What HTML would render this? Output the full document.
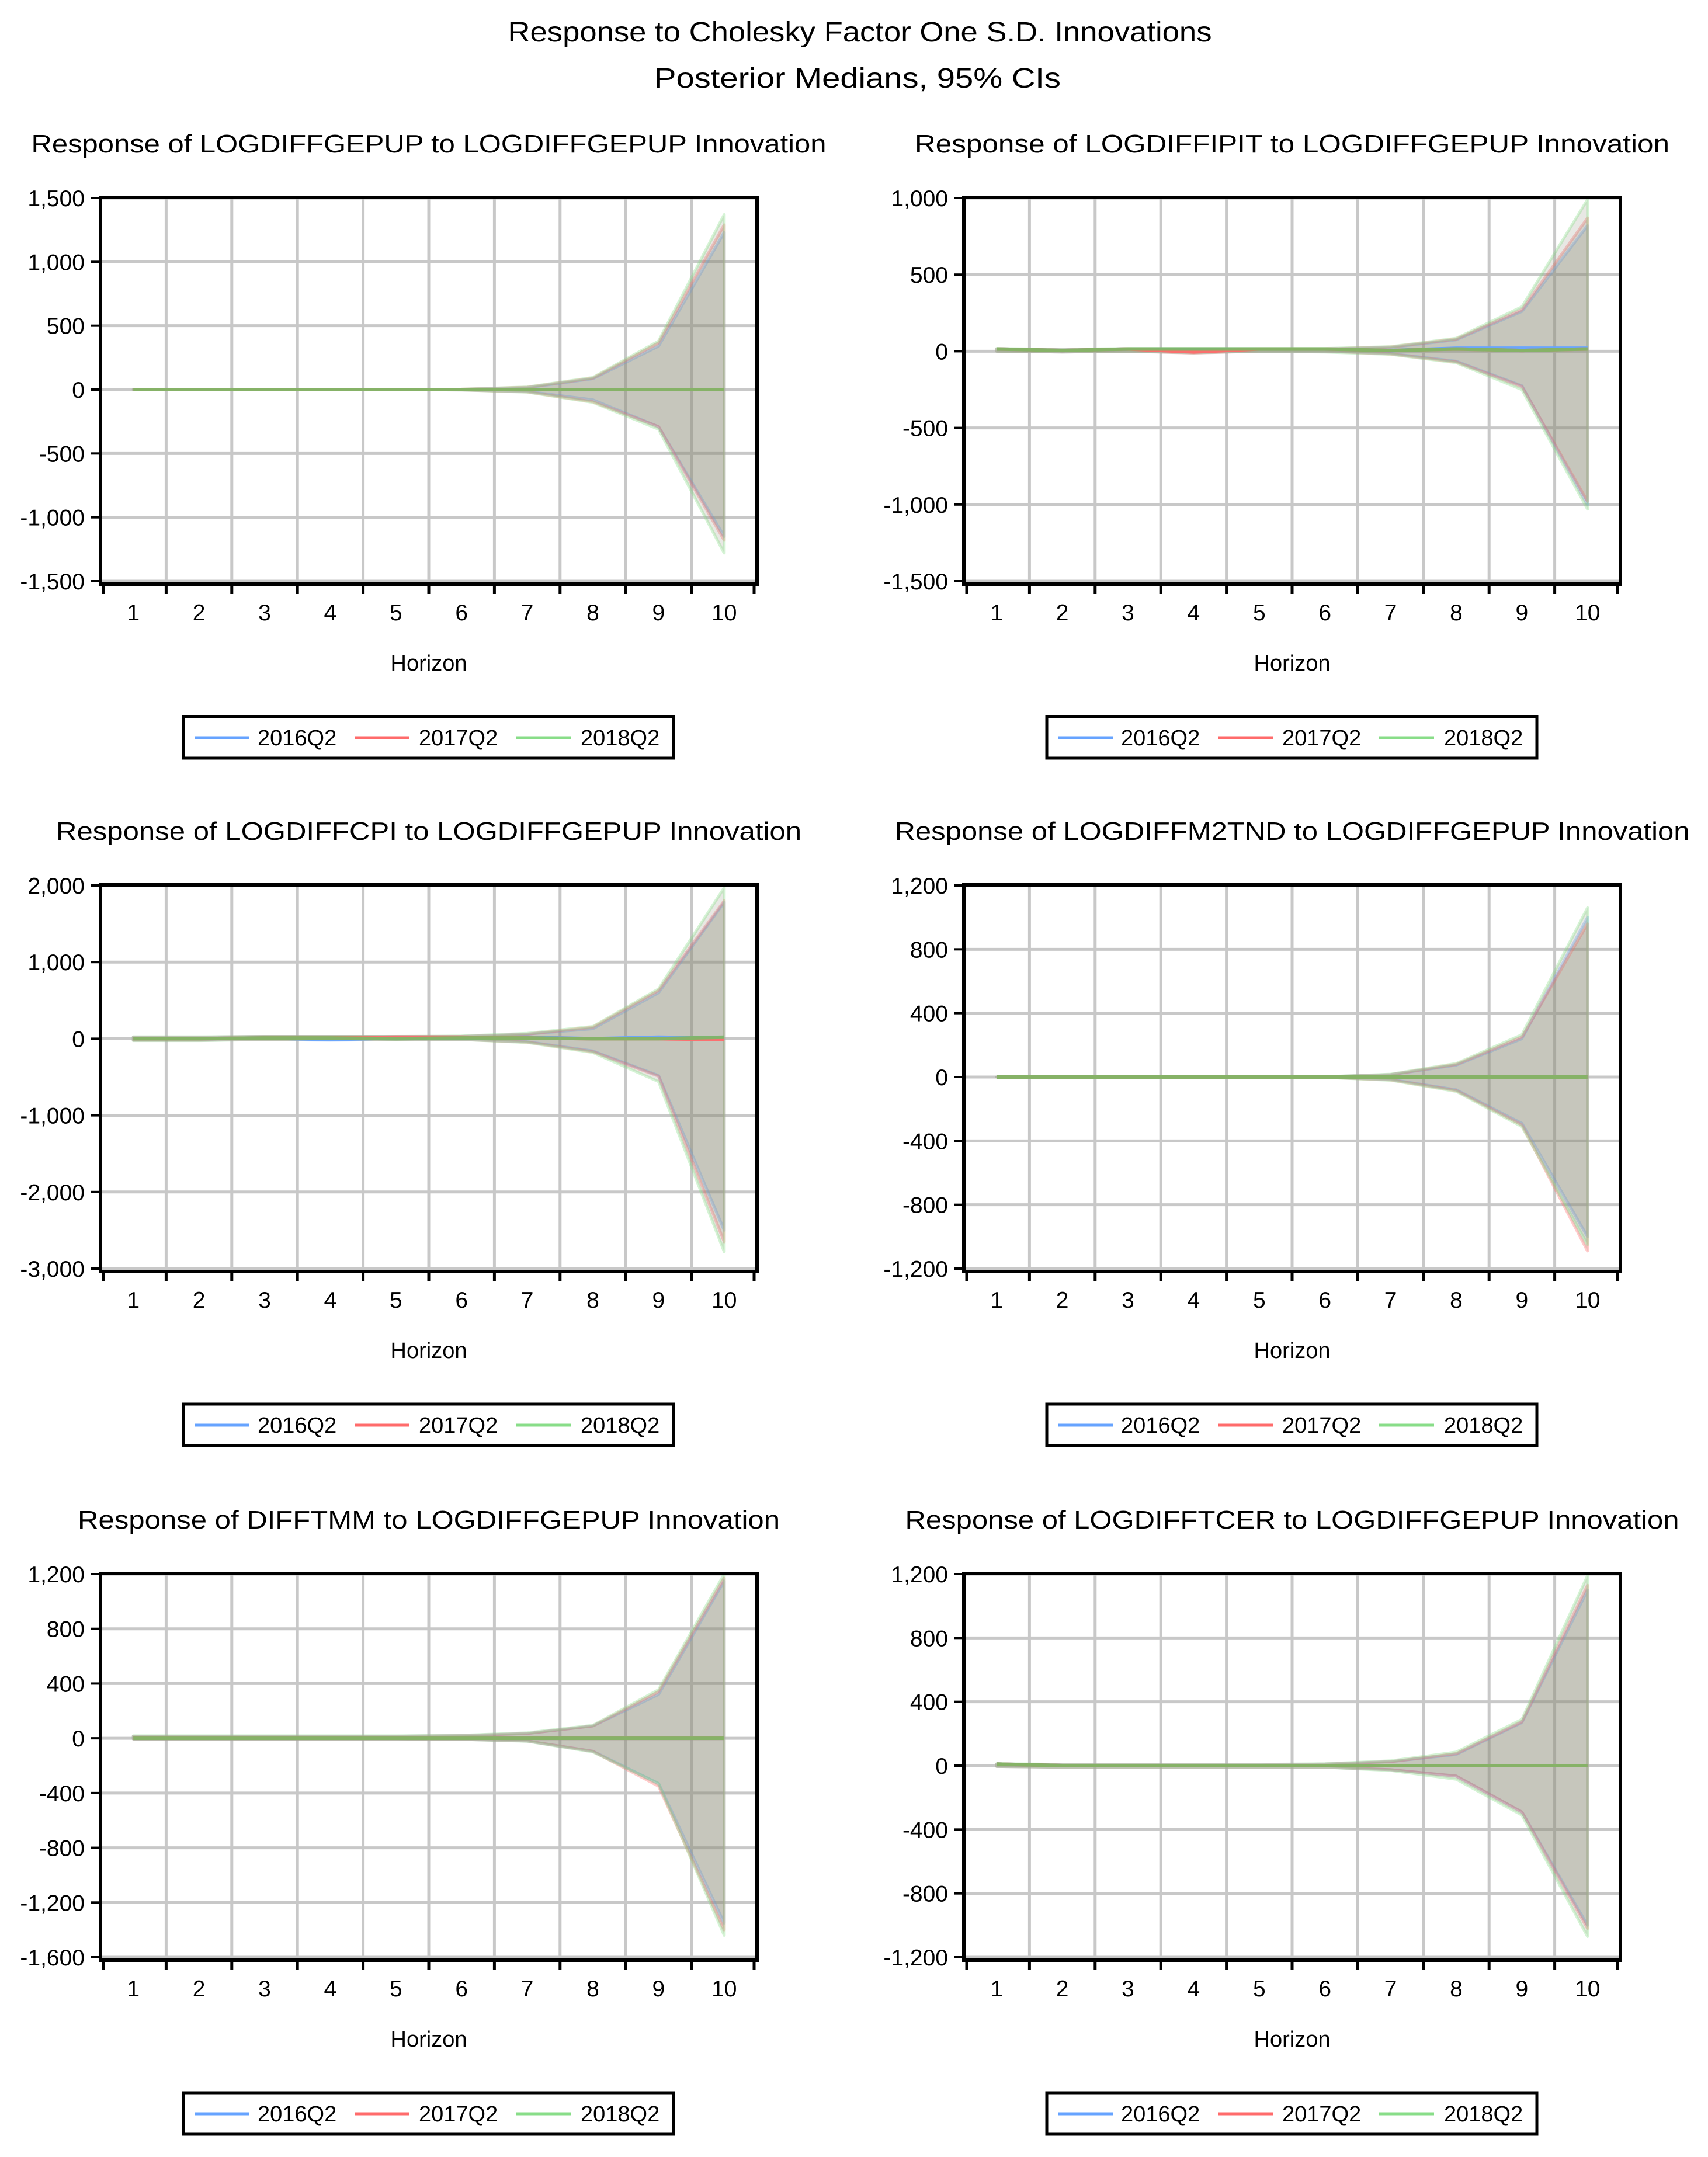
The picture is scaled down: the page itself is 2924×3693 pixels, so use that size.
<!DOCTYPE html>
<html><head><meta charset="utf-8"><style>
html,body{margin:0;padding:0;background:#fff;}
svg{display:block;font-family:"Liberation Sans",Arial,sans-serif;}
</style></head><body>
<svg id="chart" width="2924" height="3693" viewBox="0 0 2924 3693" xmlns="http://www.w3.org/2000/svg">
<rect width="2924" height="3693" fill="#fff"/>
<text x="1472" y="71" font-size="48" text-anchor="middle" textLength="1205" lengthAdjust="spacingAndGlyphs">Response to Cholesky Factor One S.D. Innovations</text>
<text x="1468" y="150" font-size="48" text-anchor="middle" textLength="696" lengthAdjust="spacingAndGlyphs">Posterior Medians, 95% CIs</text>
</svg>
<script>
const horizons = [1,2,3,4,5,6,7,8,9,10];
const seriesNames = ["2016Q2","2017Q2","2018Q2"];
const seriesColors = ["#66a3ff","#ff6b6b","#88dd88"];
const medianColors = ["#66a3ff","#ff6b6b","#7fb566"];

const p1Title = "Response of  LOGDIFFGEPUP to LOGDIFFGEPUP Innovation";
const p1Ticks = [1500,1000,500,0,-500,-1000,-1500];
const p1TickLabels = ["1,500","1,000","500","0","-500","-1,000","-1,500"];
const p1Upper = [[0,0,0,0,0,2,15,85,340,1230],[0,0,0,0,0,3,18,90,365,1290],[0,0,0,0,0,3,20,95,380,1370]];
const p1Lower = [[0,0,0,0,0,-3,-15,-80,-290,-1150],[0,0,0,0,0,-3,-18,-95,-290,-1180],[0,0,0,0,0,-3,-20,-100,-310,-1280]];
const p1Median = [[0,0,0,0,0,0,0,0,0,0],[0,0,0,0,0,0,0,0,0,0],[0,0,0,0,0,0,0,0,0,0]];

const p2Title = "Response of  LOGDIFFIPIT to LOGDIFFGEPUP Innovation";
const p2Ticks = [1000,500,0,-500,-1000,-1500];
const p2TickLabels = ["1,000","500","0","-500","-1,000","-1,500"];
const p2Upper = [[15,10,15,15,15,15,25,75,260,820],[15,10,15,15,15,15,28,80,270,870],[18,12,18,18,18,18,30,85,290,990]];
const p2Lower = [[0,-5,0,-10,0,0,-15,-65,-225,-1000],[0,-5,0,-12,0,0,-18,-70,-230,-980],[0,-5,0,-10,0,-5,-20,-75,-250,-1030]];
const p2Median = [[15,5,15,15,15,15,5,20,20,20],[15,5,15,-5,15,15,5,15,5,15],[15,5,15,15,15,15,5,15,5,15]];

const p3Title = "Response of  LOGDIFFCPI to LOGDIFFGEPUP Innovation";
const p3Ticks = [2000,1000,0,-1000,-2000,-3000];
const p3TickLabels = ["2,000","1,000","0","-1,000","-2,000","-3,000"];
const p3Upper = [[20,20,30,30,30,30,60,130,600,1780],[20,20,30,30,30,30,60,150,630,1800],[25,25,30,30,30,35,70,160,650,1970]];
const p3Lower = [[-20,-20,-10,-20,-10,-10,-40,-160,-480,-2500],[-20,-20,-10,-10,-10,-10,-45,-170,-490,-2650],[-25,-25,-10,-10,-10,-10,-50,-180,-560,-2780]];
const p3Median = [[0,0,10,-10,10,10,20,0,20,10],[0,0,10,10,20,20,10,0,0,-10],[0,0,10,10,0,10,10,0,0,20]];

const p4Title = "Response of  LOGDIFFM2TND to LOGDIFFGEPUP Innovation";
const p4Ticks = [1200,800,400,0,-400,-800,-1200];
const p4TickLabels = ["1,200","800","400","0","-400","-800","-1,200"];
const p4Upper = [[0,0,0,0,0,2,15,75,240,1000],[0,0,0,0,0,2,15,80,250,960],[0,0,0,0,0,2,18,85,265,1060]];
const p4Lower = [[0,0,0,0,0,-2,-15,-80,-290,-1000],[0,0,0,0,0,-2,-18,-85,-300,-1090],[0,0,0,0,0,-2,-20,-90,-310,-1050]];
const p4Median = [[0,0,0,0,0,0,0,0,0,0],[0,0,0,0,0,0,0,0,0,0],[0,0,0,0,0,0,0,0,0,0]];

const p5Title = "Response of  DIFFTMM to LOGDIFFGEPUP Innovation";
const p5Ticks = [1200,800,400,0,-400,-800,-1200,-1600];
const p5TickLabels = ["1,200","800","400","0","-400","-800","-1,200","-1,600"];
const p5Upper = [[15,15,15,15,15,20,35,90,320,1150],[15,15,15,15,15,20,35,90,340,1170],[18,18,18,18,18,22,40,95,355,1200]];
const p5Lower = [[-5,-5,-5,-5,-5,-8,-20,-95,-330,-1350],[-5,-5,-5,-5,-5,-8,-20,-95,-350,-1400],[-5,-5,-5,-5,-5,-8,-22,-100,-330,-1440]];
const p5Median = [[0,0,0,0,0,0,0,0,0,0],[0,0,0,0,0,0,0,0,0,0],[0,0,0,0,0,0,0,0,0,0]];

const p6Title = "Response of  LOGDIFFTCER to LOGDIFFGEPUP Innovation";
const p6Ticks = [1200,800,400,0,-400,-800,-1200];
const p6TickLabels = ["1,200","800","400","0","-400","-800","-1,200"];
const p6Upper = [[10,5,5,5,5,10,25,70,270,1100],[10,5,5,5,5,10,25,75,275,1130],[12,8,8,8,8,12,30,85,290,1190]];
const p6Lower = [[-5,-10,-10,-10,-10,-10,-25,-65,-290,-1000],[-5,-10,-10,-10,-10,-10,-25,-65,-290,-1020],[-5,-10,-10,-10,-10,-10,-30,-85,-310,-1070]];
const p6Median = [[10,0,0,0,0,0,0,0,0,0],[10,0,0,0,0,0,0,0,0,0],[10,0,0,0,0,0,0,0,0,0]];

const NS = "http://www.w3.org/2000/svg";
const svg = document.getElementById("chart");
function mk(tag, attrs, parent){
  const e = document.createElementNS(NS, tag);
  for (const k in attrs) e.setAttribute(k, attrs[k]);
  (parent||svg).appendChild(e);
  return e;
}

const panels = [
  {t:p1Title,tk:p1Ticks,tl:p1TickLabels,up:p1Upper,lo:p1Lower,md:p1Median,x0:172,y0:338,tw:1361,key:"gepup"},
  {t:p2Title,tk:p2Ticks,tl:p2TickLabels,up:p2Upper,lo:p2Lower,md:p2Median,x0:1650,y0:338,tw:1292,key:"ipit"},
  {t:p3Title,tk:p3Ticks,tl:p3TickLabels,up:p3Upper,lo:p3Lower,md:p3Median,x0:172,y0:1515,tw:1276,key:"cpi"},
  {t:p4Title,tk:p4Ticks,tl:p4TickLabels,up:p4Upper,lo:p4Lower,md:p4Median,x0:1650,y0:1515,tw:1361,key:"m2tnd"},
  {t:p5Title,tk:p5Ticks,tl:p5TickLabels,up:p5Upper,lo:p5Lower,md:p5Median,x0:172,y0:2694,tw:1202,key:"difftmm"},
  {t:p6Title,tk:p6Ticks,tl:p6TickLabels,up:p6Upper,lo:p6Lower,md:p6Median,x0:1650,y0:2694,tw:1325,key:"tcer"}
];
const W = 1124, H = 662;

panels.forEach(p => {
  const g = mk("g", {});
  
  
  const ymax = Math.max(...p.tk), ymin = Math.min(...p.tk);
  const ys = v => p.y0 + (ymax - v) / (ymax - ymin) * (H - 6) + 1;
  const bw = W / horizons.length;
  const xs = i => p.x0 + (i + 0.5) * bw;

  const title = mk("text", {x:p.x0 + W/2, y:p.y0 - 77, "font-size":44, "text-anchor":"middle", textLength:p.tw, lengthAdjust:"spacingAndGlyphs"}, g);
  title.textContent = p.t;
  
  

  p.tk.forEach((v, k) => {
    const ln = mk("line", {x1:p.x0, x2:p.x0 + W, y1:ys(v), y2:ys(v), stroke:"#c8c8c8", "stroke-width":5}, g);
    
    
    const tick = mk("line", {x1:p.x0 - 16, x2:p.x0, y1:ys(v), y2:ys(v), stroke:"#000", "stroke-width":4}, g);
    
    
    const lab = mk("text", {x:p.x0 - 27, y:ys(v) + 14, "font-size":39, "text-anchor":"end"}, g);
    lab.textContent = p.tl[k];
    
    
  });
  for (let k = 1; k < horizons.length; k++) {
    const ln = mk("line", {x1:p.x0 + k*bw, x2:p.x0 + k*bw, y1:p.y0, y2:p.y0 + H, stroke:"#c8c8c8", "stroke-width":5}, g);
    
    
  }
  for (let k = 0; k <= horizons.length; k++) {
    const xx = p.x0 + k*bw + (k===0?5:0) - (k===horizons.length?5:0);
    const tk = mk("line", {x1:xx, x2:xx, y1:p.y0 + H, y2:p.y0 + H + 17, stroke:"#000", "stroke-width":5}, g);
    
    
  }
  horizons.forEach((h, i) => {
    const lab = mk("text", {x:xs(i), y:p.y0 + H + 62, "font-size":39, "text-anchor":"middle"}, g);
    lab.textContent = h;
    
    
  });

  for (let s = 0; s < 3; s++) {
    let pts = [];
    for (let i = 0; i < horizons.length; i++) pts.push(xs(i) + "," + ys(p.up[s][i]));
    for (let i = horizons.length - 1; i >= 0; i--) pts.push(xs(i) + "," + ys(p.lo[s][i]));
    const band = mk("polygon", {points:pts.join(" "), fill:"#8a8a78", "fill-opacity":0.2, stroke:seriesColors[s], "stroke-opacity":0.35, "stroke-width":5, "stroke-linejoin":"round"}, g);
    
    
  }
  for (let s = 0; s < 3; s++) {
    const pts = horizons.map((h, i) => xs(i) + "," + ys(p.md[s][i])).join(" ");
    const ln = mk("polyline", {points:pts, fill:"none", stroke:medianColors[s], "stroke-width":6, "stroke-opacity":0.95}, g);
    
    
  }
  const fr = mk("rect", {x:p.x0, y:p.y0, width:W, height:H, fill:"none", stroke:"#000", "stroke-width":6}, g);
  
  

  const xt = mk("text", {x:p.x0 + W/2, y:p.y0 + H + 148, "font-size":38, "text-anchor":"middle"}, g);
  xt.textContent = "Horizon";
  
  

  const lg = mk("g", {}, g);
  
  
  const lx = p.x0 + 142, ly = p.y0 + 889;
  mk("rect", {x:lx, y:ly, width:839, height:71, fill:"#fff", stroke:"#000", "stroke-width":5}, lg);
  const lineOff = [19, 293, 569], textOff = [127, 403, 680];
  for (let s = 0; s < 3; s++) {
    const e = mk("g", {}, lg);
    
    
    mk("line", {x1:lx + lineOff[s], x2:lx + lineOff[s] + 94, y1:ly + 36, y2:ly + 36, stroke:seriesColors[s], "stroke-width":5}, e);
    const t = mk("text", {x:lx + textOff[s], y:ly + 49, "font-size":38}, e);
    t.textContent = seriesNames[s];
  }
});
</script>
</body></html>
